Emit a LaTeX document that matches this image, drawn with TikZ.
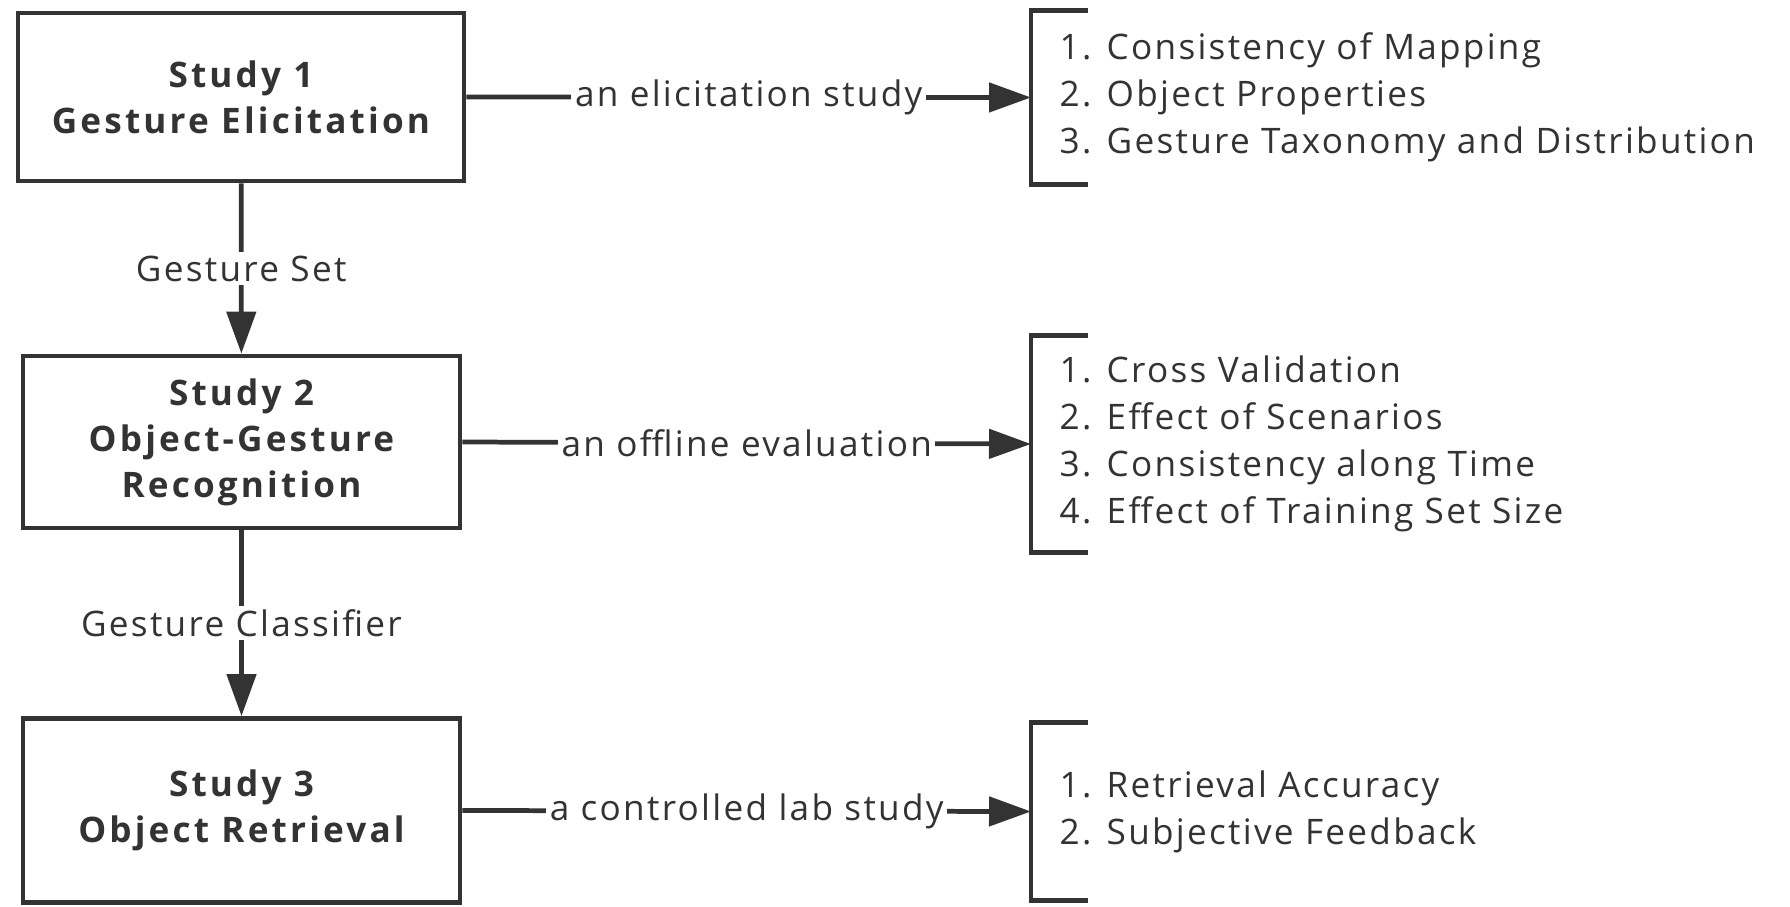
\documentclass[tikz,border=0pt]{standalone}
\usepackage{fontspec}
\setmainfont{Open Sans}[LetterSpace=6.5, BoldFeatures={LetterSpace=9}]
\usetikzlibrary{arrows.meta}
\definecolor{ink}{HTML}{333333}
\begin{document}
\begin{tikzpicture}[
    every node/.style={font=\fontsize{10}{13.4}\selectfont, text=ink},
    study/.style={draw=ink, line width=1.35pt, fill=white, minimum width=4.37cm,
                  minimum height=#1, align=center,
                  font=\fontsize{10}{13.1}\selectfont\bfseries},
    results/.style={anchor=west, minimum height=#1, inner xsep=2.8mm,
                    align=left},
    lab/.style={fill=white, inner sep=1pt},
    arrow/.style={-{Triangle[length=4.2mm, width=2.9mm]}, line width=1.35pt, ink},
    bracket/.style={line width=1.35pt, ink}
]
\useasboundingbox (0,0) rectangle (17.9,-9.07);

% Study 1
\node[study=1.68cm, minimum width=4.46cm] (s1) at (2.41, -0.97)
    {Study 1\\Gesture Elicitation};
\node[results=1.73cm] (r1) at (10.31, -0.975)
    {1. Consistency of Mapping\\2. Object Properties\\3. Gesture Taxonomy and Distribution};
\draw[bracket] ([xshift=5.7mm]r1.north west) -- (r1.north west)
    -- (r1.south west) -- ([xshift=5.7mm]r1.south west);
\draw[arrow] (s1.east) -- node[lab] {an elicitation study} (r1.west);

% Study 2
\node[study=1.72cm] (s2) at (2.415, -4.42)
    {Study 2\\Object-Gesture\\Recognition};
\node[results=2.16cm] (r2) at (10.31, -4.44)
    {1. Cross Validation\\2. Effect of Scenarios\\3. Consistency along Time\\4. Effect of Training Set Size};
\draw[bracket] ([xshift=5.7mm]r2.north west) -- (r2.north west)
    -- (r2.south west) -- ([xshift=5.7mm]r2.south west);
\draw[arrow] (s2.east) -- node[lab] {an offline evaluation} (r2.west);
\draw[arrow] (s1) -- node[lab] {Gesture Set} (s2);

% Study 3
\node[study=1.84cm] (s3) at (2.415, -8.105)
    {Study 3\\Object Retrieval};
\node[results=1.77cm] (r3) at (10.31, -8.115)
    {1. Retrieval Accuracy\\2. Subjective Feedback};
\draw[bracket] ([xshift=5.7mm]r3.north west) -- (r3.north west)
    -- (r3.south west) -- ([xshift=5.7mm]r3.south west);
\draw[arrow] (s3.east) -- node[lab] {a controlled lab study} (r3.west);
\draw[arrow] (s2) -- node[lab] {Gesture Classifier} (s3);

\end{tikzpicture}
\end{document}
